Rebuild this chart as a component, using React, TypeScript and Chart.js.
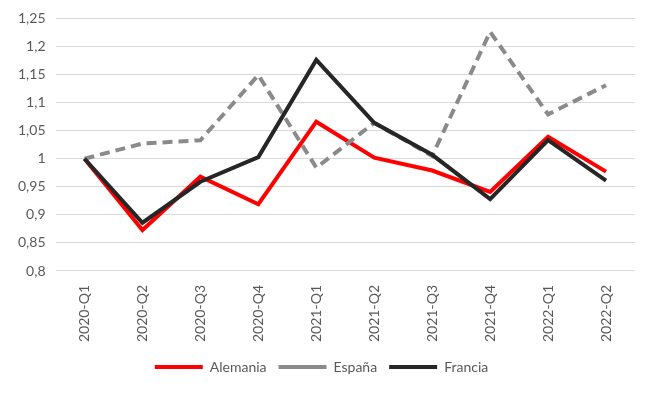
import React, { useEffect, useRef } from "react";
import { Chart, registerables } from "chart.js";

Chart.register(...registerables);

const categories = [
  "2020-Q1", "2020-Q2", "2020-Q3", "2020-Q4",
  "2021-Q1", "2021-Q2", "2021-Q3", "2021-Q4",
  "2022-Q1", "2022-Q2",
];
const alemania = [1.0, 0.873, 0.968, 0.919, 1.066, 1.002, 0.979, 0.941, 1.039, 0.977];
const espana = [1.0, 1.027, 1.033, 1.149, 0.984, 1.064, 1.005, 1.226, 1.079, 1.131];
const francia = [1.0, 0.886, 0.959, 1.003, 1.176, 1.064, 1.007, 0.928, 1.033, 0.961];

const yMin = 0.8;
const yMax = 1.25;
const yStep = 0.05;

export default function App() {
  const ref = useRef<HTMLCanvasElement | null>(null);
  useEffect(() => {
    document.body.style.margin = "0";
    if (!ref.current) return;
    const font = { family: "Lato", size: 14 };
    const chart = new Chart(ref.current, {
      type: "line",
      data: {
        labels: categories,
        datasets: [
          {
            label: "Alemania",
            data: alemania,
            borderColor: "#ff0000",
            backgroundColor: "#ff0000",
            borderWidth: 4,
            pointRadius: 0,
            order: 3,
          },
          {
            label: "España",
            data: espana,
            borderColor: "#8a8a8a",
            backgroundColor: "#8a8a8a",
            borderWidth: 4,
            borderDash: [10, 6],
            pointRadius: 0,
            order: 2,
          },
          {
            label: "Francia",
            data: francia,
            borderColor: "#262626",
            backgroundColor: "#262626",
            borderWidth: 4,
            pointRadius: 0,
            order: 1,
          },
        ],
      },
      options: {
        responsive: false,
        animation: false,
        layout: { padding: { top: 14, right: 20, left: 8, bottom: 9 } },
        plugins: {
          tooltip: { enabled: false },
          legend: {
            position: "bottom",
            labels: {
              usePointStyle: true,
              pointStyle: "line",
              pointStyleWidth: 48,
              boxWidth: 48,
              boxHeight: 8,
              padding: 12,
              color: "#595959",
              font,
              sort: (a: any, b: any) => a.datasetIndex - b.datasetIndex,
            },
          },
        },
        scales: {
          x: {
            offset: true,
            grid: { display: false },
            border: { display: false },
            ticks: {
              minRotation: 90,
              maxRotation: 90,
              color: "#595959",
              font,
              padding: 6,
            },
          },
          y: {
            min: yMin,
            max: yMax,
            grid: { color: "#d9d9d9", lineWidth: 1, drawTicks: false },
            border: { display: false },
            ticks: {
              stepSize: yStep,
              color: "#595959",
              font,
              padding: 10,
              callback: (v: any) => String(Math.round(Number(v) * 100) / 100).replace(".", ","),
            },
          },
        },
      },
    });
    return () => chart.destroy();
  }, []);
  return (
    <div style={{ width: 655, height: 393 }}>
      <canvas ref={ref} width={655} height={393} style={{ display: "block" }} />
    </div>
  );
}
